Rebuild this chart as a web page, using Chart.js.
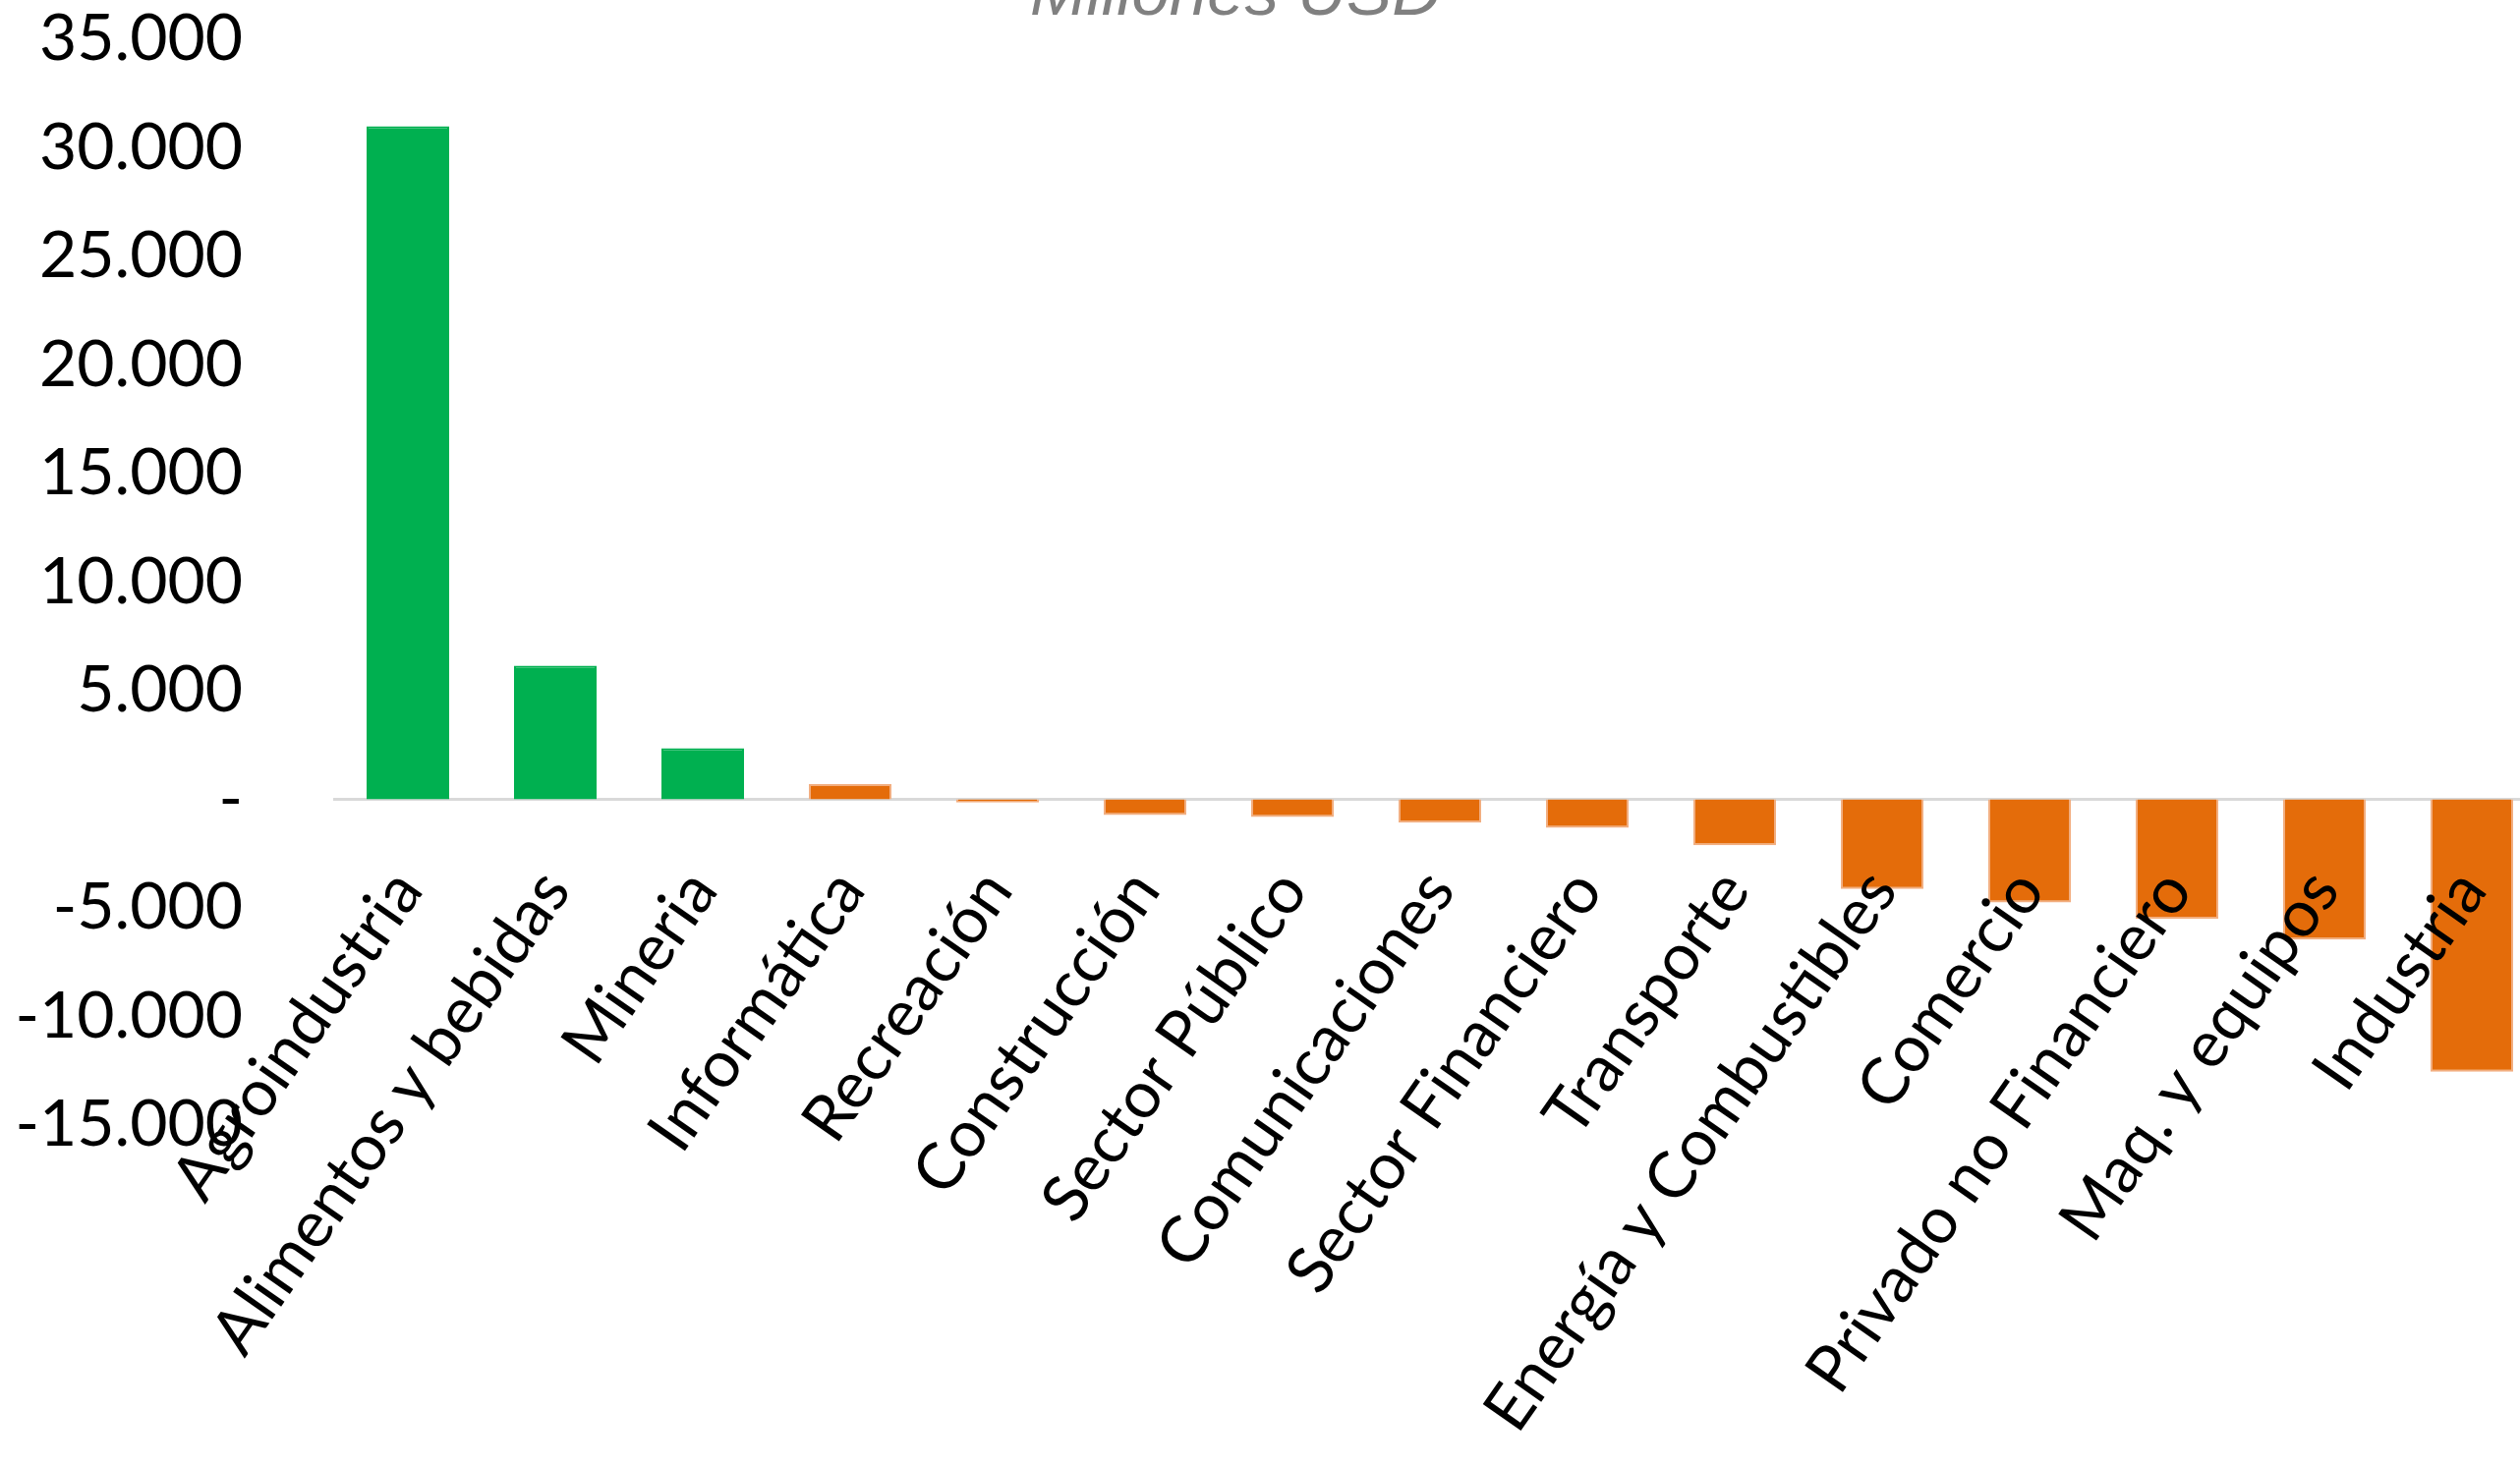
<!DOCTYPE html>
<html>
<head>
<meta charset="utf-8">
<script src="https://cdn.jsdelivr.net/npm/chart.js@4.4.1/dist/chart.umd.min.js"></script>
<style>
html, body { margin: 0; padding: 0; background: #fff; overflow: hidden; }
/* el grafico original esta recortado por la derecha */
#wrap { width: 2590px; height: 1492px; }
</style>
</head>
<body>
<div id="wrap"><canvas id="barChart"></canvas></div>
<script>
// sectores y saldo (millones USD)
var sectores = ["Agroindustria", "Alimentos y bebidas", "Mineria", "Informática", "Recreación",
    "Construcción", "Sector Público", "Comunicaciones", "Sector Financiero", "Transporte",
    "Energía y Combustibles", "Comercio", "Privado no Financiero", "Maq. y equipos", "Industria"];
var valores = [31000, 6150, 2350, 700, -150, -720, -810, -1080, -1310, -2110, -4130, -4750, -5500, -6460, -12550];
var grupos = ["v", "v", "v", "n", "n", "n", "n", "n", "n", "n", "n", "n", "n", "n", "n"];
var titulo = "Millones USD";

var yMin = -15000, yMax = 35000, yPaso = 5000;

var verde = '#00B050';
var naranja = '#E46C0A';
var colores = grupos.map(function (g) { return g === "v" ? verde : naranja; });
var bordes = grupos.map(function (g) { return g === "v" ? verde : '#F2AE80'; });

function fmtMiles(v) {
    if (v === 0) return '-';
    var s = Math.abs(v).toFixed(0).replace(/\B(?=(\d{3})+(?!\d))/g, '.');
    return (v < 0 ? '-' : '') + s;
}

var fuente = 'Lato, "Open Sans", sans-serif';

// titulo cortado arriba, como en el original
var tituloPlugin = {
    id: 'tituloCortado',
    afterDraw: function (chart) {
        var ctx = chart.ctx;
        ctx.save();
        ctx.font = 'italic 69px "Liberation Sans", Arial, sans-serif';
        ctx.fillStyle = '#808080';
        ctx.textAlign = 'center';
        ctx.textBaseline = 'alphabetic';
        ctx.fillText(titulo, chart.width / 2 - 38, 15);
        ctx.restore();
    }
};

var myBarChart = new Chart('barChart', {
    type: 'bar',
    data: {
        labels: sectores,
        datasets: [{
            data: valores,
            backgroundColor: colores,
            borderColor: bordes,
            borderWidth: 2,
            barPercentage: 0.56,
            categoryPercentage: 1
        }]
    },
    options: {
        responsive: true,
        maintainAspectRatio: false,
        animation: false,
        layout: {
            padding: { top: 2, right: 0, bottom: 347, left: 0 }
        },
        plugins: {
            legend: { display: false },
            tooltip: { enabled: false },
            title: { display: false }
        },
        scales: {
            x: {
                position: { y: 0 },
                grid: { display: false },
                border: { display: true, color: '#D9D9D9', width: 3 },
                ticks: {
                    z: 1,
                    color: '#000',
                    font: { family: fuente, size: 66 },
                    minRotation: 55,
                    maxRotation: 55,
                    autoSkip: false,
                    padding: 50
                },
                afterFit: function (scale) {
                    scale.paddingLeft = 0;
                    scale.paddingRight = 0;
                }
            },
            y: {
                min: yMin,
                max: yMax,
                grid: { display: false },
                border: { display: false },
                ticks: {
                    stepSize: yPaso,
                    color: '#000',
                    font: { family: fuente, size: 66 },
                    padding: 85,
                    callback: function (v) { return fmtMiles(v); }
                },
                afterFit: function (scale) {
                    scale.width = 340;
                    scale.paddingTop = 40;
                    scale.paddingBottom = 40;
                }
            }
        }
    },
    plugins: [tituloPlugin]
});
</script>
</body>
</html>
